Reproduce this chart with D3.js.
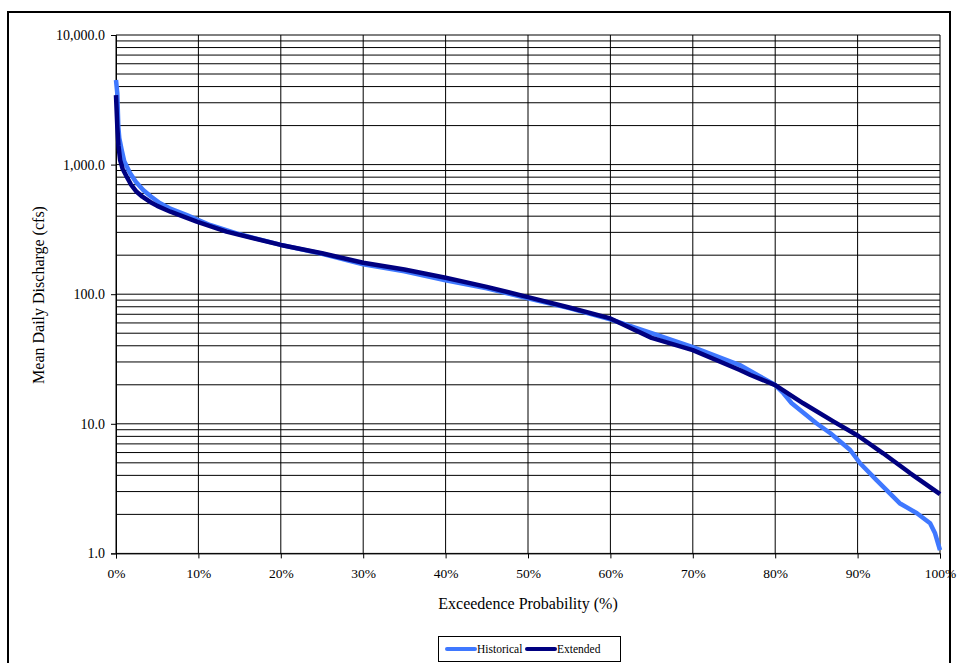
<!DOCTYPE html>
<html>
<head>
<meta charset="utf-8">
<script src="https://cdn.jsdelivr.net/npm/d3@7"></script>
<style>
  body { margin: 0; background: #fff; }
  svg text { font-family: "Liberation Serif", "Times New Roman", "DejaVu Serif", serif; fill: #000; }
</style>
</head>
<body>
<svg id="chart" width="958" height="663"></svg>
<script>
// exceedence probability (%) and mean daily discharge (cfs)
const histPct = [0, 0.16, 0.28, 0.4, 0.69, 1.0, 1.7, 2.4, 3.3, 4.2, 5.3, 6.5, 8.6, 11.4, 15, 20, 25, 30, 35, 40, 45, 50, 55, 60, 65, 70, 75.7, 78, 80, 81, 82, 85, 86.7, 89.1, 90.3, 92.3, 95.1, 97.2, 98.8, 99.4, 100];
const histQ   = [4500, 3540, 1960, 1600, 1297, 1060, 861, 738, 637, 570, 506, 460, 408, 342, 290, 240, 205, 170, 150, 128, 111, 93, 78, 64, 50, 39, 28.4, 23.5, 19.9, 17.2, 14.4, 10.1, 8.45, 6.28, 4.96, 3.68, 2.44, 2.04, 1.71, 1.43, 1.06];

const extPct = [0, 0.16, 0.3, 0.5, 0.8, 1.3, 1.8, 2.5, 3.2, 4.1, 5.0, 6.6, 9.8, 13.4, 20, 25, 30, 35, 40, 45, 50, 55, 60, 65, 70, 75.7, 77, 80, 83.4, 87.1, 90.1, 93.1, 96.4, 100];
const extQ   = [3440, 1960, 1400, 1084, 930, 807, 705, 617, 565, 517, 480, 433, 363, 304, 240, 207, 175, 155, 134, 114, 95, 79, 65, 46, 37, 26, 23.8, 19.9, 14.4, 10.4, 8.05, 5.92, 4.15, 2.87];

const xTicks = d3.range(0, 101, 10);
const yTicks = [1, 10, 100, 1000, 10000];

const series = [
  { name: "Historical", color: "#3F78FF", pct: histPct, q: histQ },
  { name: "Extended", color: "#000080", pct: extPct, q: extQ }
];

const svg = d3.select("#chart");

// outer frame
svg.append("rect")
  .attr("x", 8).attr("y", 12)
  .attr("width", 942).attr("height", 660)
  .attr("fill", "none").attr("stroke", "#000").attr("stroke-width", 2);

const x = d3.scaleLinear().domain([0, 100]).range([116, 940]);
const y = d3.scaleLog().domain([1, 10000]).range([553.4, 35]);

// horizontal grid, every 1..9 of each decade
const minor = [];
for (let dec = 1; dec < 10000; dec *= 10) {
  for (let k = 1; k <= 10; k++) minor.push(dec * k);
}
const grid = svg.append("g");
grid.selectAll("line.h")
  .data(Array.from(new Set(minor)))
  .enter().append("line")
  .attr("x1", x(0)).attr("x2", x(100))
  .attr("y1", d => y(d)).attr("y2", d => y(d))
  .attr("stroke", "#000").attr("stroke-width", 1);

grid.selectAll("line.v")
  .data(xTicks)
  .enter().append("line")
  .attr("x1", d => x(d)).attr("x2", d => x(d))
  .attr("y1", y(10000)).attr("y2", y(1))
  .attr("stroke", "#000").attr("stroke-width", 1);

// axes
const yAxis = d3.axisLeft(y)
  .tickValues(yTicks)
  .tickFormat(d3.format(",.1f"))
  .tickSizeOuter(0)
  .tickSize(5);
const gy = svg.append("g").attr("transform", `translate(${x(0)},0)`).call(yAxis);
gy.attr("font-family", null);
gy.selectAll("text").attr("font-size", 14).attr("x", -11);

const xAxis = d3.axisBottom(x)
  .tickValues(xTicks)
  .tickFormat(d => d + "%")
  .tickSizeOuter(0)
  .tickSize(5);
const gx = svg.append("g").attr("transform", `translate(0,${y(1)})`).call(xAxis);
gx.attr("font-family", null);
gx.selectAll("text").attr("font-size", 13.5).attr("dy", "1.2em");
svg.selectAll(".domain, .tick line").attr("stroke", "#000");

// series
const line = d3.line()
  .x(d => x(d[0]))
  .y(d => y(d[1]));

series.forEach(s => {
  svg.append("path")
    .datum(s.pct.map((p, i) => [p, s.q[i]]))
    .attr("fill", "none")
    .attr("stroke", s.color)
    .attr("stroke-width", 4.5)
    .attr("stroke-linejoin", "round")
    .attr("d", line);
});

// axis titles
svg.append("text")
  .attr("x", 528).attr("y", 609)
  .attr("text-anchor", "middle")
  .attr("font-size", 16)
  .text("Exceedence Probability (%)");

svg.append("text")
  .attr("transform", "translate(44,295) rotate(-90)")
  .attr("text-anchor", "middle")
  .attr("font-size", 16)
  .text("Mean Daily Discharge (cfs)");

// legend
const legend = svg.append("g");
legend.append("rect")
  .attr("x", 438.5).attr("y", 636.5)
  .attr("width", 182).attr("height", 25)
  .attr("fill", "#fff").attr("stroke", "#000").attr("stroke-width", 1);

const lx = [447, 527];
series.forEach((s, i) => {
  legend.append("line")
    .attr("x1", lx[i]).attr("x2", lx[i] + 28)
    .attr("y1", 649).attr("y2", 649)
    .attr("stroke", s.color).attr("stroke-width", 4)
    .attr("stroke-linecap", "round");
  legend.append("text")
    .attr("x", lx[i] + 30).attr("y", 653)
    .attr("font-size", 11.5)
    .text(s.name);
});
</script>
</body>
</html>
